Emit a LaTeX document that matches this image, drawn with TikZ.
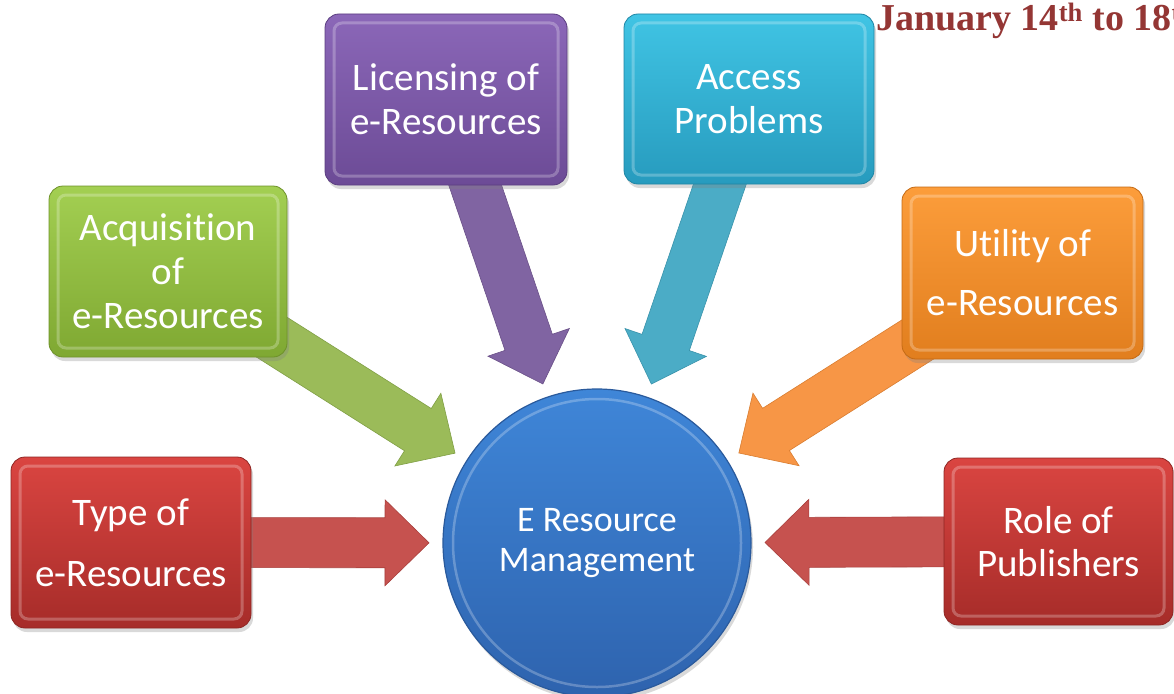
\documentclass[tikz,border=0pt]{standalone}
\usepackage{fontspec}
\setmainfont{Carlito}[Ligatures=NoCommon]
\newfontfamily\titlefont{Liberation Serif}
\usetikzlibrary{calc,shadows}
\pgfdeclarelayer{background}
\pgfsetlayers{background,main}

\definecolor{redTop}{HTML}{DA4541}
\definecolor{redBot}{HTML}{A62C29}
\definecolor{redDark}{HTML}{8E2522}
\definecolor{redArrow}{HTML}{C6524F}
\definecolor{redArrowDark}{HTML}{A8403D}
\definecolor{greenTop}{HTML}{A3CF52}
\definecolor{greenBot}{HTML}{7FA832}
\definecolor{greenDark}{HTML}{6E922A}
\definecolor{greenArrow}{HTML}{9BBB59}
\definecolor{greenArrowDark}{HTML}{809F45}
\definecolor{purpleTop}{HTML}{8B67B8}
\definecolor{purpleBot}{HTML}{6C4B96}
\definecolor{purpleDark}{HTML}{5B3E80}
\definecolor{purpleArrow}{HTML}{8064A2}
\definecolor{purpleArrowDark}{HTML}{6A5088}
\definecolor{tealTop}{HTML}{40C4E4}
\definecolor{tealBot}{HTML}{279BBE}
\definecolor{tealDark}{HTML}{1F85A4}
\definecolor{tealArrow}{HTML}{4BACC6}
\definecolor{tealArrowDark}{HTML}{3A93AB}
\definecolor{orangeTop}{HTML}{FC9D3B}
\definecolor{orangeBot}{HTML}{E17E1E}
\definecolor{orangeDark}{HTML}{C46A14}
\definecolor{orangeArrow}{HTML}{F79646}
\definecolor{orangeArrowDark}{HTML}{D97D30}
\definecolor{blueTop}{HTML}{3F86D8}
\definecolor{blueBot}{HTML}{2E63AE}
\definecolor{blueDark}{HTML}{2A5A9C}
\definecolor{titlered}{HTML}{943634}

\tikzset{
  box/.style={rounded corners=14pt, draw=#1Dark, line width=0.8pt,
    top color=#1Top, bottom color=#1Bot, text=white, align=center, inner sep=0pt,
    drop shadow={opacity=0.3, shadow xshift=2pt, shadow yshift=-4pt},
    path picture={\draw[white, opacity=0.25, line width=3pt, rounded corners=8pt]
      ([shift={(9pt,9pt)}]path picture bounding box.south west) rectangle
      ([shift={(-9pt,-9pt)}]path picture bounding box.north east);}},
  hubstyle/.style={circle, draw=blueDark, line width=1.2pt, top color=blueTop,
    bottom color=blueBot, text=white, align=center, inner sep=0pt,
    minimum size=308pt,
    drop shadow={opacity=0.3, shadow xshift=2pt, shadow yshift=-4pt},
    path picture={\draw[white, opacity=0.25, line width=2.5pt]
      (path picture bounding box.center) circle (144pt);}},
  arrowstyle/.style={fill=#1Arrow, draw=#1ArrowDark, line width=0.6pt, line join=miter}
}

\newcommand\blockarrow[3]{%
  \coordinate (#3tip) at ($(hub.center)!168pt!(#2.center)$);
  \coordinate (#3base) at ($(#3tip)!44pt!(#2.center)$);
  \path[arrowstyle=#1] ($(#2.center)!25pt!90:(#3tip)$)
    -- ($(#3base)!25pt!90:(#3tip)$)
    -- ($(#3base)!43pt!90:(#3tip)$)
    -- (#3tip)
    -- ($(#3base)!43pt!-90:(#3tip)$)
    -- ($(#3base)!25pt!-90:(#3tip)$)
    -- ($(#2.center)!25pt!-90:(#3tip)$) -- cycle;}

\begin{document}
\begin{tikzpicture}[x=1pt, y=-1pt]
\useasboundingbox (0,0) rectangle (1174,693);
\clip (0,0) rectangle (1174,693);

\node[hubstyle, font=\fontsize{36}{40}\selectfont] (hub) at (597,543) {E Resource\\Management};

\node[box=red, minimum width=240pt, minimum height=171pt, font=\fontsize{39}{61}\selectfont]
  (type) at (131,542.5) {Type of\\e-Resources};
\node[box=green, minimum width=238pt, minimum height=171pt, font=\fontsize{39}{44}\selectfont]
  (acq) at (168,271.5) {Acquisition\\of\\e-Resources};
\node[box=purple, minimum width=242pt, minimum height=171pt, font=\fontsize{39}{44}\selectfont]
  (lic) at (446,99.5) {Licensing of\\e-Resources};
\node[box=teal, minimum width=250pt, minimum height=170pt, font=\fontsize{39}{44}\selectfont]
  (acc) at (749,99) {Access\\Problems};
\node[box=orange, minimum width=241pt, minimum height=172pt, font=\fontsize{39}{59}\selectfont]
  (util) at (1022.5,273) {Utility of\\e-Resources};
\node[box=red, minimum width=229pt, minimum height=167pt, font=\fontsize{39}{43}\selectfont]
  (role) at (1058.5,541.5) {Role of\\Publishers};

\begin{pgfonlayer}{background}
\blockarrow{red}{type}{a}
\blockarrow{green}{acq}{b}
\blockarrow{purple}{lic}{c}
\blockarrow{teal}{acc}{d}
\blockarrow{orange}{util}{e}
\blockarrow{red}{role}{f}
\end{pgfonlayer}

\node[anchor=base west, inner sep=0pt, text=titlered,
  font=\titlefont\bfseries\fontsize{38}{40}\selectfont] (title) at (876,31)
  {January 14\textsuperscript{th} to 18\textsuperscript{th}};
\end{tikzpicture}
\end{document}
